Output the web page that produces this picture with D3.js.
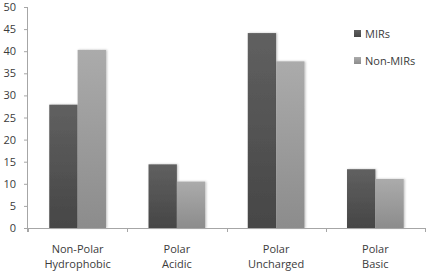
<!DOCTYPE html>
<html>
<head>
<meta charset="utf-8">
<script src="https://cdn.jsdelivr.net/npm/d3@7"></script>
<style>
    body { margin: 0; background: #fff; }
    svg text { font-family: "Open Sans", "Noto Sans", sans-serif; fill: #3b3b3b; }
</style>
</head>
<body>
<div id="chart"></div>
<script>
const categories = [["Non-Polar", "Hydrophobic"], ["Polar", "Acidic"], ["Polar", "Uncharged"], ["Polar", "Basic"]];
const seriesNames = ["MIRs", "Non-MIRs"];
const mirs = [27.9, 14.4, 44.1, 13.3];
const nonMirs = [40.3, 10.5, 37.7, 11.1];
const yTicks = [0, 5, 10, 15, 20, 25, 30, 35, 40, 45, 50];

const width = 430, height = 274;
const margin = { top: 7, right: 5, bottom: 46, left: 28 };
const chartWidth = width - margin.left - margin.right;
const chartHeight = height - margin.top - margin.bottom;

const svg = d3.select("#chart").append("svg")
    .attr("width", width)
    .attr("height", height);

// gradients for the Excel-ish bar look
const defs = svg.append("defs");
const grads = [["#606060", "#464646"], ["#ababab", "#8c8c8c"]];
grads.forEach((g, i) => {
    const lg = defs.append("linearGradient")
        .attr("id", "grad" + i)
        .attr("x1", 0).attr("y1", 0).attr("x2", 0).attr("y2", 1);
    lg.append("stop").attr("offset", "0%").attr("stop-color", g[0]);
    lg.append("stop").attr("offset", "100%").attr("stop-color", g[1]);
});
const filter = defs.append("filter").attr("id", "shadow")
    .attr("x", "-20%").attr("y", "-5%").attr("width", "140%").attr("height", "110%");
filter.append("feDropShadow").attr("dx", 1).attr("dy", 0).attr("stdDeviation", 1)
    .attr("flood-color", "#000").attr("flood-opacity", 0.25);

const g = svg.append("g").attr("transform", `translate(${margin.left}, ${margin.top})`);

const xScale = d3.scaleBand()
    .domain(d3.range(categories.length))
    .range([0, chartWidth]);

const bw = xScale.bandwidth() / 3.5;
const xInner = d3.scaleBand()
    .domain(d3.range(seriesNames.length))
    .range([xScale.bandwidth() * 0.75 / 3.5, xScale.bandwidth() * 2.75 / 3.5]);

const yScale = d3.scaleLinear()
    .domain([0, 50])
    .range([chartHeight, 0]);

// bars
const values = [mirs, nonMirs];
values.forEach((vals, si) => {
    g.selectAll(".bar" + si)
        .data(vals)
        .join("rect")
        .attr("class", "bar" + si)
        .attr("x", (d, i) => xScale(i) + xInner(si))
        .attr("width", xInner.bandwidth())
        .attr("y", d => yScale(d))
        .attr("height", d => chartHeight - yScale(d))
        .attr("fill", `url(#grad${si})`)
        .attr("filter", "url(#shadow)");
});

// y axis
const yAxis = g.append("g")
    .call(d3.axisLeft(yScale).tickValues(yTicks).tickSize(4).tickPadding(8));
yAxis.select(".domain").attr("stroke", "#a6a6a6").attr("d", `M-0.5,${chartHeight + 4}V0`);
yAxis.selectAll(".tick line").attr("stroke", "#a6a6a6");
yAxis.selectAll("text").attr("font-size", "11px").style("fill", "#3b3b3b");

// x axis
const xAxis = g.append("g").attr("transform", `translate(0, ${chartHeight})`);
xAxis.append("line")
    .attr("x1", 0).attr("x2", chartWidth)
    .attr("y1", 0.5).attr("y2", 0.5)
    .attr("stroke", "#a6a6a6");
xAxis.selectAll(".xtick")
    .data(d3.range(categories.length + 1))
    .join("line")
    .attr("class", "xtick")
    .attr("x1", i => Math.round(i * xScale.step()) + 0.5)
    .attr("x2", i => Math.round(i * xScale.step()) + 0.5)
    .attr("y1", 0).attr("y2", 4)
    .attr("stroke", "#a6a6a6");

categories.forEach((lines, i) => {
    const t = xAxis.append("text")
        .attr("text-anchor", "middle")
        .attr("font-size", "11px")
        .attr("x", xScale(i) + xScale.bandwidth() / 2)
        .attr("y", 25);
    lines.forEach((line, j) => {
        t.append("tspan")
            .attr("x", xScale(i) + xScale.bandwidth() / 2)
            .attr("dy", j === 0 ? 0 : 15)
            .text(line);
    });
});

// legend
const legend = svg.append("g").attr("transform", "translate(354, 30)");
seriesNames.forEach((name, i) => {
    const row = legend.append("g").attr("transform", `translate(0, ${i * 27})`);
    row.append("rect")
        .attr("width", 7).attr("height", 7)
        .attr("fill", `url(#grad${i})`);
    row.append("text")
        .attr("x", 11)
        .attr("y", 7.5)
        .attr("font-size", "11px")
        .text(name);
});
</script>
</body>
</html>
